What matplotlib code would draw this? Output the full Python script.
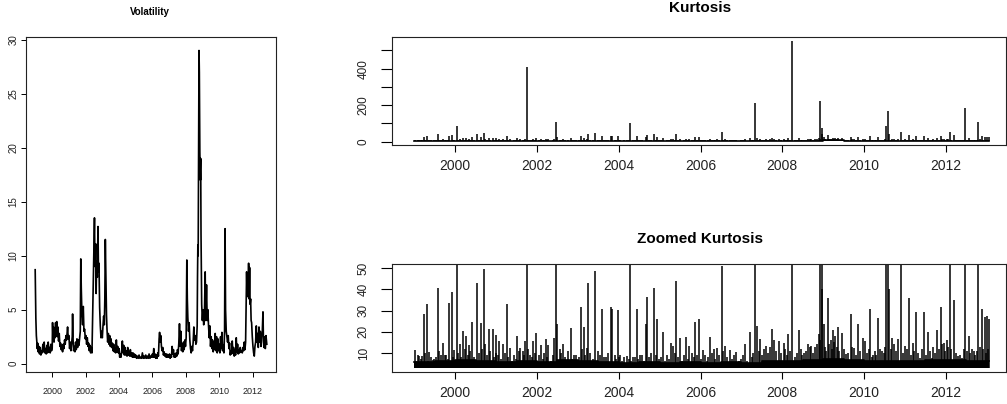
import matplotlib
matplotlib.use("Agg")
from matplotlib import pyplot as plt
from matplotlib import font_manager

##############################################
# Data
# ---------------------

# Daily volatility, read at a few points per month
vol_years = [
    1998.98, 1999.00, 1999.02, 1999.05, 1999.08, 1999.10, 1999.13, 1999.16, 1999.20, 1999.24,
    1999.28, 1999.32, 1999.36, 1999.40, 1999.44, 1999.48, 1999.52, 1999.56, 1999.60, 1999.64,
    1999.68, 1999.72, 1999.76, 1999.80, 1999.84, 1999.88, 1999.92, 1999.96,
    2000.00, 2000.02, 2000.05, 2000.08, 2000.11, 2000.14, 2000.17, 2000.20, 2000.23, 2000.27,
    2000.30, 2000.34, 2000.38, 2000.42, 2000.46, 2000.50, 2000.54, 2000.58, 2000.62, 2000.66,
    2000.70, 2000.74, 2000.78, 2000.82, 2000.86, 2000.92, 2000.96,
    2001.00, 2001.04, 2001.08, 2001.12, 2001.16, 2001.20, 2001.22, 2001.25, 2001.28, 2001.32,
    2001.36, 2001.40, 2001.44, 2001.48, 2001.52, 2001.56, 2001.60, 2001.64, 2001.68, 2001.71,
    2001.74, 2001.78, 2001.82, 2001.86, 2001.90, 2001.94, 2001.98,
    2002.02, 2002.06, 2002.10, 2002.14, 2002.18, 2002.22, 2002.26, 2002.30, 2002.34, 2002.38,
    2002.42, 2002.46, 2002.50, 2002.53, 2002.56, 2002.60, 2002.63, 2002.66, 2002.70, 2002.74,
    2002.77, 2002.80, 2002.84, 2002.88, 2002.92, 2002.96,
    2003.00, 2003.04, 2003.08, 2003.12, 2003.15, 2003.18, 2003.22, 2003.25, 2003.28, 2003.32,
    2003.36, 2003.40, 2003.44, 2003.48, 2003.52, 2003.56, 2003.60, 2003.64, 2003.68, 2003.72,
    2003.76, 2003.80, 2003.84, 2003.88, 2003.92, 2003.96,
    2004.00, 2004.04, 2004.08, 2004.12, 2004.16, 2004.20, 2004.24, 2004.28, 2004.32, 2004.36,
    2004.40, 2004.44, 2004.48, 2004.52, 2004.56, 2004.60, 2004.64, 2004.68, 2004.72, 2004.76,
    2004.80, 2004.84, 2004.88, 2004.92, 2004.96,
    2005.00, 2005.05, 2005.10, 2005.15, 2005.20, 2005.25, 2005.30, 2005.35, 2005.40, 2005.45,
    2005.50, 2005.55, 2005.60, 2005.65, 2005.70, 2005.75, 2005.80, 2005.85, 2005.90, 2005.95,
    2006.00, 2006.04, 2006.08, 2006.12, 2006.16, 2006.20, 2006.24, 2006.28, 2006.32, 2006.36,
    2006.40, 2006.43, 2006.46, 2006.50, 2006.54, 2006.58, 2006.62, 2006.66, 2006.70, 2006.74,
    2006.78, 2006.82, 2006.86, 2006.90, 2006.94, 2006.98,
    2007.02, 2007.06, 2007.10, 2007.14, 2007.18, 2007.22, 2007.26, 2007.30, 2007.34, 2007.38,
    2007.42, 2007.46, 2007.50, 2007.54, 2007.58, 2007.62, 2007.66, 2007.70, 2007.74, 2007.78,
    2007.82, 2007.86, 2007.90, 2007.94, 2007.98,
    2008.02, 2008.06, 2008.09, 2008.12, 2008.16, 2008.20, 2008.24, 2008.28, 2008.32, 2008.36,
    2008.40, 2008.44, 2008.48, 2008.52, 2008.56, 2008.60, 2008.64, 2008.68, 2008.70, 2008.72,
    2008.74, 2008.77, 2008.79, 2008.81, 2008.84, 2008.87, 2008.89, 2008.91, 2008.95, 2008.99,
    2009.03, 2009.07, 2009.11, 2009.16, 2009.19, 2009.24, 2009.28, 2009.32, 2009.36, 2009.40,
    2009.44, 2009.48, 2009.52, 2009.56, 2009.60, 2009.64, 2009.68, 2009.72, 2009.76, 2009.80,
    2009.84, 2009.88, 2009.92, 2009.96,
    2010.00, 2010.04, 2010.08, 2010.12, 2010.16, 2010.20, 2010.24, 2010.28, 2010.32, 2010.35,
    2010.38, 2010.42, 2010.46, 2010.50, 2010.54, 2010.58, 2010.62, 2010.66, 2010.70, 2010.74,
    2010.78, 2010.82, 2010.86, 2010.90, 2010.94, 2010.98,
    2011.02, 2011.06, 2011.10, 2011.14, 2011.18, 2011.22, 2011.26, 2011.30, 2011.34, 2011.38,
    2011.42, 2011.46, 2011.50, 2011.54, 2011.58, 2011.61, 2011.64, 2011.67, 2011.70, 2011.73,
    2011.76, 2011.79, 2011.82, 2011.85, 2011.88, 2011.91, 2011.94, 2011.98,
    2012.02, 2012.06, 2012.10, 2012.14, 2012.18, 2012.22, 2012.26, 2012.30, 2012.34, 2012.38,
    2012.42, 2012.46, 2012.50, 2012.54, 2012.58, 2012.62, 2012.65, 2012.68, 2012.72, 2012.76,
    2012.80, 2012.85,
]
vol_values = [
    8.7, 6.5, 4.2, 2.6, 2.0, 1.4, 1.9, 1.1, 1.6, 0.9,
    1.5, 0.8, 1.2, 1.0, 1.8, 1.1, 2.0, 1.0, 1.4, 0.9,
    1.7, 1.0, 2.0, 1.1, 1.5, 1.0, 1.8, 1.2,
    1.5, 3.8, 2.2, 3.4, 2.0, 3.0, 2.4, 3.8, 2.6, 3.9,
    2.5, 3.4, 2.1, 2.8, 1.6, 1.9, 1.3, 1.7, 1.1, 1.8,
    1.4, 2.2, 1.8, 2.6, 2.2, 3.4, 2.3,
    2.6, 1.4, 2.0, 1.2, 1.8, 2.5, 4.6, 2.2, 1.2, 1.6,
    1.1, 2.0, 1.3, 2.3, 1.5, 2.2, 1.7, 2.4, 3.0, 9.7,
    7.0, 4.5, 3.6, 5.3, 3.0, 3.2, 2.3,
    2.6, 1.8, 2.4, 1.6, 1.9, 1.2, 1.7, 1.0, 1.5, 1.0,
    4.5, 8.0, 11.0, 13.5, 9.0, 11.1, 6.5, 9.5, 8.0, 12.7,
    8.5, 9.3, 5.2, 3.5, 2.4, 3.0,
    2.4, 3.5, 4.4, 3.6, 6.0, 11.5, 7.5, 4.5, 3.2, 2.0,
    2.8, 1.8, 2.6, 1.6, 2.3, 1.5, 1.9, 1.2, 1.8, 1.1,
    1.4, 1.0, 2.2, 1.1, 1.6, 1.0,
    1.4, 0.6, 0.9, 0.6, 1.2, 2.1, 1.0, 1.7, 0.8, 1.5,
    0.8, 1.2, 0.7, 1.5, 0.8, 1.1, 0.7, 1.3, 0.7, 1.0,
    0.6, 1.0, 0.6, 0.9, 0.6,
    0.8, 0.5, 0.7, 0.5, 0.8, 0.5, 0.6, 0.5, 1.0, 0.5,
    0.7, 0.5, 0.8, 0.5, 0.7, 0.5, 0.9, 0.5, 0.7, 0.6,
    0.9, 0.6, 1.4, 0.6, 0.9, 0.5, 0.8, 0.5, 1.0, 0.7,
    2.3, 2.9, 2.0, 2.6, 1.6, 1.2, 1.5, 0.8, 1.1, 0.7,
    0.9, 0.6, 0.9, 0.6, 0.8, 0.6,
    0.9, 0.5, 0.8, 0.6, 1.6, 0.9, 1.3, 0.6, 0.9, 0.6,
    1.0, 0.7, 1.3, 0.9, 1.9, 3.7, 1.6, 3.0, 1.2, 1.8,
    1.1, 2.0, 1.3, 2.2, 1.6,
    2.4, 9.6, 6.0, 4.3, 3.0, 3.8, 2.2, 1.4, 1.0, 1.6,
    1.2, 2.0, 3.4, 2.2, 2.6, 1.8, 2.0, 3.5, 8.0, 11.0,
    10.0, 22.0, 29.0, 27.0, 19.6, 17.0, 19.0, 12.0, 5.5, 4.0,
    5.0, 3.6, 4.2, 8.5, 4.0, 7.3, 4.0, 5.0, 3.5, 2.4,
    3.5, 1.6, 2.5, 1.4, 2.2, 1.1, 2.0, 1.3, 2.8, 1.2,
    2.5, 1.0, 2.3, 1.2,
    1.8, 1.0, 2.5, 1.4, 2.9, 1.2, 1.7, 1.0, 3.0, 12.5,
    5.0, 3.0, 2.5, 2.0, 2.6, 1.4, 1.9, 0.8, 1.2, 0.9,
    2.1, 1.0, 1.5, 0.7, 1.3, 0.8,
    2.4, 1.1, 1.8, 0.9, 1.3, 1.0, 1.5, 1.1, 1.2, 1.0,
    1.5, 1.2, 2.0, 1.3, 2.0, 5.0, 8.5, 6.2, 8.0, 6.5,
    9.3, 6.0, 8.9, 5.5, 6.0, 4.0, 3.8, 2.5,
    1.6, 1.0, 0.7, 1.6, 2.0, 3.5, 2.0, 2.8, 1.5, 3.4,
    2.0, 3.0, 1.6, 2.5, 3.0, 4.8, 2.0, 1.5, 2.5, 1.4,
    2.6, 1.8,
]

# Kurtosis: dates of the visible spikes and their heights
kurt_years = [
    1999.01, 1999.12, 1999.18, 1999.23, 1999.30, 1999.35, 1999.45, 1999.53, 1999.585, 1999.64,
    1999.69, 1999.78, 1999.85, 1999.91, 1999.97,
    2000.03, 2000.12, 2000.19, 2000.27, 2000.34, 2000.40, 2000.52, 2000.62, 2000.69, 2000.73,
    2000.82, 2000.91,
    2001.00, 2001.07, 2001.17, 2001.26, 2001.33, 2001.52, 2001.59, 2001.65, 2001.71, 2001.75,
    2001.83, 2001.91, 2001.98,
    2002.10, 2002.22, 2002.28, 2002.41, 2002.47, 2002.50, 2002.63, 2002.82, 2002.90,
    2003.07, 2003.15, 2003.21, 2003.25, 2003.43, 2003.58, 2003.63, 2003.81, 2003.84, 2003.97,
    2004.04, 2004.20, 2004.28, 2004.35, 2004.44, 2004.53, 2004.67, 2004.70, 2004.86, 2004.94,
    2005.07, 2005.28, 2005.33, 2005.41, 2005.50, 2005.65, 2005.73, 2005.87, 2005.96,
    2006.06, 2006.23, 2006.32, 2006.40, 2006.52, 2006.59, 2006.71, 2006.87,
    2007.08, 2007.20, 2007.34, 2007.38, 2007.46, 2007.59, 2007.75, 2007.79, 2007.91,
    2008.03, 2008.15, 2008.247, 2008.40, 2008.52, 2008.63, 2008.71, 2008.81, 2008.89, 2008.93,
    2008.96, 2008.98,
    2009.01, 2009.11, 2009.18, 2009.24, 2009.30, 2009.36, 2009.45, 2009.55, 2009.67, 2009.75,
    2009.85, 2009.97,
    2010.03, 2010.15, 2010.23, 2010.34, 2010.44, 2010.55, 2010.59, 2010.62, 2010.69, 2010.83,
    2010.90,
    2011.01, 2011.11, 2011.19, 2011.28, 2011.38, 2011.46, 2011.57, 2011.66, 2011.79, 2011.88,
    2011.95,
    2012.02, 2012.10, 2012.20, 2012.30, 2012.40, 2012.48, 2012.56, 2012.68, 2012.80, 2012.89,
    2012.95, 2013.01, 2013.06,
]
kurt_values = [
    11.3, 8.7, 8.7, 28.2, 33.0, 10.3, 6.5, 7.9, 40.8, 9.2,
    14.8, 9.0, 33.4, 39.0, 11.6,
    86, 14.3, 20.3, 18.1, 13.6, 24.6, 43.2, 24.2, 49.5, 14.0,
    21.4, 21.1,
    18.4, 15.5, 14.3, 33.3, 12.4, 17.9, 12.4, 10.8, 15.5, 407,
    8.9, 15.6, 19.5,
    13.7, 16.7, 13.7, 17.1, 109, 23.5, 14.0, 21.9, 9.2,
    31.7, 22.2, 12.4, 43.0, 48.5, 30.6, 8.0, 31.7, 30.6, 30.3,
    9.2, 8.4, 100, 7.9, 30.9, 8.9, 23.8, 36.4, 40.5, 26.1,
    20.0, 14.8, 13.2, 44.0, 17.1, 17.4, 13.2, 24.6, 25.8,
    11.6, 17.4, 12.0, 12.4, 51, 13.2, 11.6, 10.5,
    14.3, 20.0, 213, 22.7, 16.8, 13.5, 21.1, 16.3, 15.5,
    14.7, 19.0, 551, 20.6, 10.0, 14.3, 13.2, 12.7, 19.0, 223,
    73, 40,
    23.5, 35.8, 16.3, 20.6, 18.2, 22.2, 19.5, 9.5, 28.2, 12.4,
    23.5, 17.1,
    15.5, 30.9, 9.2, 26.6, 10.8, 86, 168, 40, 17.1, 16.8,
    52,
    13.2, 35.8, 14.7, 29.3, 7.6, 29.5, 20.0, 7.6, 20.6, 31.7,
    14.8,
    16.3, 55, 34.8, 8.4, 7.6, 183, 18.2, 10.8, 109, 30.9,
    27.0, 27.4, 25.8,
]

# Smaller day-to-day kurtosis bumps between the spikes
kurt_minor_years = [
    1999.04, 1999.09, 1999.15, 1999.26, 1999.33, 1999.40, 1999.49, 1999.60, 1999.67, 1999.74, 1999.82, 1999.94,
    2000.07, 2000.15, 2000.23, 2000.30, 2000.37, 2000.45, 2000.57, 2000.65, 2000.77, 2000.86, 2000.95, 2000.99,
    2001.04, 2001.12, 2001.21, 2001.30, 2001.38, 2001.44, 2001.48, 2001.56, 2001.68, 2001.79, 2001.87, 2001.94,
    2002.04, 2002.14, 2002.18, 2002.25, 2002.34, 2002.38, 2002.55, 2002.59, 2002.69, 2002.75, 2002.86, 2002.96,
    2003.02, 2003.11, 2003.18, 2003.30, 2003.36, 2003.48, 2003.53, 2003.68, 2003.73, 2003.90, 2003.93, 2004.00,
    2004.09, 2004.13, 2004.24, 2004.31, 2004.39, 2004.48, 2004.58, 2004.62, 2004.75, 2004.80, 2004.90, 2004.98,
    2005.03, 2005.12, 2005.17, 2005.22, 2005.37, 2005.46, 2005.55, 2005.60, 2005.69, 2005.79, 2005.83, 2005.92,
    2006.02, 2006.10, 2006.15, 2006.19, 2006.27, 2006.36, 2006.45, 2006.56, 2006.64, 2006.76, 2006.82, 2006.93,
    2007.00, 2007.04, 2007.13, 2007.25, 2007.29, 2007.42, 2007.51, 2007.55, 2007.66, 2007.70, 2007.84, 2007.96,
    2008.07, 2008.11, 2008.19, 2008.30, 2008.35, 2008.45, 2008.48, 2008.57, 2008.67, 2008.75, 2008.85, 2008.92,
    2009.05, 2009.08, 2009.14, 2009.21, 2009.27, 2009.33, 2009.40, 2009.50, 2009.60, 2009.71, 2009.80, 2009.91,
    2010.07, 2010.11, 2010.19, 2010.27, 2010.30, 2010.39, 2010.48, 2010.51, 2010.66, 2010.74, 2010.78, 2010.95,
    2011.05, 2011.15, 2011.23, 2011.33, 2011.42, 2011.51, 2011.62, 2011.70, 2011.74, 2011.84, 2011.92, 2011.99,
    2012.06, 2012.14, 2012.25, 2012.35, 2012.44, 2012.52, 2012.60, 2012.64, 2012.72, 2012.76, 2012.85, 2012.92,
    2012.98, 2013.04,
]
kurt_minor_values = [
    6, 9, 7, 10, 6, 8, 7, 11, 6, 9, 7, 8,
    10, 8, 12, 9, 11, 8, 10, 12, 9, 11, 8, 10,
    9, 7, 10, 8, 6, 9, 7, 11, 9, 12, 8, 10,
    9, 7, 10, 8, 6, 9, 12, 10, 8, 11, 7, 9,
    8, 12, 9, 10, 7, 11, 9, 8, 10, 9, 7, 8,
    6, 8, 7, 6, 8, 7, 9, 6, 8, 10, 9, 7,
    8, 6, 9, 7, 10, 8, 6, 9, 7, 10, 8, 9,
    7, 9, 6, 8, 10, 7, 9, 11, 8, 7, 9, 6,
    7, 9, 6, 8, 10, 11, 9, 12, 10, 13, 11, 10,
    12, 9, 11, 8, 10, 12, 9, 11, 13, 10, 14, 16,
    13, 11, 14, 12, 15, 13, 11, 12, 10, 13, 9, 11,
    10, 12, 8, 11, 9, 12, 10, 13, 12, 14, 11, 10,
    12, 9, 11, 10, 12, 9, 11, 13, 10, 12, 14, 11,
    13, 12, 10, 9, 12, 11, 10, 12, 9, 11, 13, 12,
    10, 12,
]

# Upper edge of the dense day-to-day kurtosis band, by half year
kurt_floor_years = [
    1999.0, 1999.5, 2000.0, 2000.5, 2001.0, 2001.5, 2002.0, 2002.5, 2003.0, 2003.5,
    2004.0, 2004.5, 2005.0, 2005.5, 2006.0, 2006.5, 2007.0, 2007.5, 2008.0, 2008.5,
    2009.0, 2009.5, 2010.0, 2010.5, 2011.0, 2011.5, 2012.0, 2012.5, 2013.07,
]
kurt_floor_values = [
    5.5, 6.0, 6.5, 6.0, 5.5, 6.0, 5.5, 6.5, 6.0, 5.5,
    5.0, 5.5, 5.0, 5.5, 5.0, 5.5, 5.0, 6.0, 6.0, 6.5,
    7.0, 6.5, 6.0, 6.0, 6.0, 6.5, 6.5, 6.0, 6.0,
]
KURT_BASE = 3

year_ticks = [2000, 2002, 2004, 2006, 2008, 2010, 2012]
vol_ticks = [0, 5, 10, 15, 20, 25, 30]
kurt_ticks = [0, 100, 200, 300, 400, 500]
kurt_tick_labels = ["0", "", "200", "", "400", ""]
zoom_ticks = [10, 20, 30, 40, 50]

##############################################
# Layout helpers
# ---------------------

W, H = 1007, 404
installed = {f.name for f in font_manager.fontManager.ttflist}
SANS = "Liberation Sans" if "Liberation Sans" in installed else "DejaVu Sans"
NARROW = "Liberation Sans Narrow" if "Liberation Sans Narrow" in installed else SANS


def px_axes(fig, x0, y0, x1, y1):
    """Axes box given in pixels from the top-left corner."""
    return fig.add_axes([x0 / W, 1 - y1 / H, (x1 - x0) / W, (y1 - y0) / H])


def frame(ax):
    for s in ax.spines.values():
        s.set_linewidth(0.8)
        s.set_color("#222222")


def y_labels(ax, ticks, labels, family, size):
    ax.set_yticks(ticks)
    ax.set_yticklabels(labels, fontfamily=family, fontsize=size,
                       rotation=90, va="center", color="#222222")


def x_labels(ax, family, size):
    ax.set_xticks(year_ticks)
    ax.set_xticklabels([str(y) for y in year_ticks], fontfamily=family,
                       fontsize=size, color="#222222")


def kurtosis_marks(ax):
    ax.fill_between(kurt_floor_years, KURT_BASE, kurt_floor_values,
                    step="post", color="black", lw=0)
    ax.plot(kurt_floor_years, kurt_floor_values, drawstyle="steps-post",
            color="black", lw=1.2)
    ax.vlines(kurt_minor_years, KURT_BASE, kurt_minor_values, color="black", lw=1.1)
    ax.vlines(kurt_years, KURT_BASE, kurt_values, color="black", lw=1.1)


fig = plt.figure(figsize=(W / 100, H / 100), dpi=100)

##############################################
# Volatility
# ---------------------

ax = px_axes(fig, 26, 37, 276, 372)
ax.plot(vol_years, vol_values, color="black", lw=1.2)
ax.set_xlim(1998.43, 2013.40)
ax.set_ylim(-0.77, 30.25)
frame(ax)
x_labels(ax, NARROW, 6.5)
y_labels(ax, vol_ticks, [str(v) for v in vol_ticks], SANS, 7)
ax.tick_params(axis="x", length=3.8, width=0.7, pad=7)
ax.tick_params(axis="y", length=3.8, width=0.7, pad=1.5)
fig.text(150 / W, 1 - 12 / H, "Volatility", ha="center", va="center",
         fontfamily=NARROW, fontweight="bold", fontsize=7)

##############################################
# Kurtosis, full range and zoomed
# ---------------------

ax = px_axes(fig, 392, 37, 1006, 145)
kurtosis_marks(ax)
ax.set_xlim(1998.451, 2013.474)
ax.set_ylim(-18.05, 572.8)
frame(ax)
x_labels(ax, SANS, 10)
y_labels(ax, kurt_ticks, kurt_tick_labels, SANS, 8.5)
ax.tick_params(axis="x", length=4.8, width=0.8, pad=5.5)
ax.tick_params(axis="y", length=8, width=0.8, pad=8)
fig.text(700 / W, 1 - 8 / H, "Kurtosis", ha="center", va="center",
         fontfamily=SANS, fontweight="bold", fontsize=11)

ax = px_axes(fig, 392, 264.3, 1006, 371.7)
kurtosis_marks(ax)
ax.set_xlim(1998.451, 2013.474)
ax.set_ylim(1.12, 51.88)
frame(ax)
x_labels(ax, SANS, 10)
y_labels(ax, zoom_ticks, [str(v) for v in zoom_ticks], SANS, 8.5)
ax.tick_params(axis="x", length=4.8, width=0.8, pad=5.5)
ax.tick_params(axis="y", length=8, width=0.8, pad=8)
fig.text(700 / W, 1 - 239 / H, "Zoomed Kurtosis", ha="center", va="center",
         fontfamily=SANS, fontweight="bold", fontsize=11)

fig.savefig("out.png", dpi=100)
